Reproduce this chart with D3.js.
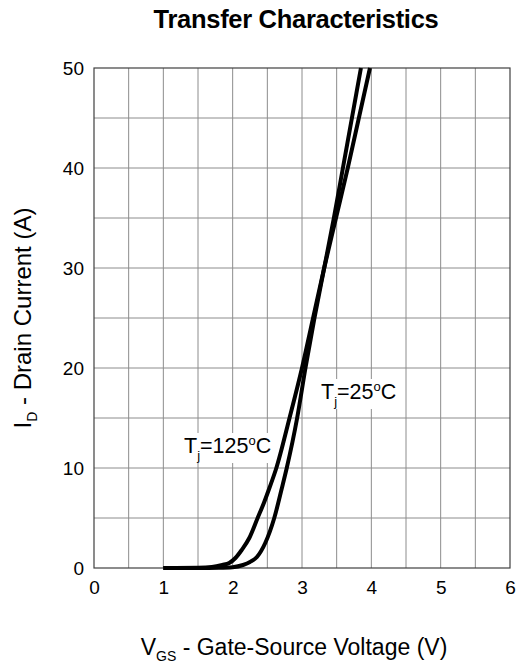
<!DOCTYPE html>
<html>
<head>
<meta charset="utf-8">
<script src="https://cdn.jsdelivr.net/npm/d3@7"></script>
<style>
  html, body { margin: 0; padding: 0; background: #fff; }
  text { font-family: "Liberation Sans", Arial, sans-serif; fill: #000; }
</style>
</head>
<body>
<svg id="chart" width="516" height="666"></svg>
<script>
// ---- data ----
const titleText = "Transfer Characteristics";
const xTicks = [0, 1, 2, 3, 4, 5, 6];
const yTicks = [0, 10, 20, 30, 40, 50];
const xGrid = [0.5, 1, 1.5, 2, 2.5, 3, 3.5, 4, 4.5, 5, 5.5];
const yGrid = [5, 10, 15, 20, 25, 30, 35, 40, 45];

// Tj = 25 °C
const vgs25 = [1.0, 1.5, 1.8, 2.0, 2.15, 2.25, 2.35, 2.47, 2.6, 2.71, 2.78, 2.93, 3.05, 3.18, 3.32, 3.46, 3.59, 3.72, 3.85];
const id25  = [0, 0, 0.02, 0.08, 0.3, 0.6, 1.1, 2.5, 5, 8, 10, 15, 20, 25, 30, 35, 40, 45, 50];

// Tj = 125 °C
const vgs125 = [1.0, 1.5, 1.7, 1.85, 1.95, 2.04, 2.13, 2.24, 2.36, 2.45, 2.53, 2.63, 2.82, 3.0, 3.16, 3.32, 3.49, 3.66, 3.82, 3.98];
const id125  = [0, 0.03, 0.1, 0.3, 0.5, 1.0, 1.8, 3.0, 5, 6.5, 8, 10, 15, 20, 25, 30, 35, 40, 45, 50];

// ---- layout ----
const svg = d3.select("#chart");
const L = 94, R = 510, T = 68, B = 568;
const x = d3.scaleLinear().domain([0, 6]).range([L, R]);
const y = d3.scaleLinear().domain([0, 50]).range([B, T]);

// grid
const g = svg.append("g");
g.selectAll("line.vg").data(xGrid).enter().append("line")
  .attr("x1", d => x(d)).attr("x2", d => x(d)).attr("y1", T).attr("y2", B)
  .attr("stroke", "#8c8c8c").attr("stroke-width", 1);
g.selectAll("line.hg").data(yGrid).enter().append("line")
  .attr("y1", d => y(d)).attr("y2", d => y(d)).attr("x1", L).attr("x2", R)
  .attr("stroke", "#8c8c8c").attr("stroke-width", 1);

// frame
svg.append("rect").attr("x", L).attr("y", T).attr("width", R - L).attr("height", B - T)
  .attr("fill", "none").attr("stroke", "#404040").attr("stroke-width", 1.2);

// axes tick labels
const xAxis = d3.axisBottom(x).tickValues(xTicks).tickSize(0).tickPadding(13).tickFormat(d3.format("d"));
const xa = svg.append("g").attr("transform", `translate(0,${B})`).call(xAxis);
xa.select(".domain").remove();
xa.selectAll("text").attr("font-size", 19).attr("font-family", "Liberation Sans, Arial, sans-serif").attr("fill", "#000");

const yAxis = d3.axisLeft(y).tickValues(yTicks).tickSize(0).tickPadding(10).tickFormat(d3.format("d"));
const ya = svg.append("g").attr("transform", `translate(${L},0)`).call(yAxis);
ya.select(".domain").remove();
ya.selectAll("text").attr("font-size", 19).attr("font-family", "Liberation Sans, Arial, sans-serif").attr("fill", "#000");

// labels with white background
function tempLabel(px, py, temp) {
  const grp = svg.append("g");
  const bg = grp.append("rect").attr("fill", "#fff");
  const t = grp.append("text").attr("x", px).attr("y", py).attr("font-size", 21.5);
  t.append("tspan").text("T");
  t.append("tspan").attr("font-size", 13).attr("dy", 7).text("j");
  t.append("tspan").attr("dy", -7).text("=" + temp);
  t.append("tspan").attr("font-size", 13).attr("dy", -8).text("o");
  t.append("tspan").attr("dy", 8).text("C");
  const bb = t.node().getBBox();
  bg.attr("x", bb.x - 2).attr("y", bb.y).attr("width", bb.width + 4).attr("height", bb.height);
  return grp;
}

// curves
const line = d3.line().x(d => x(d[0])).y(d => y(d[1])).curve(d3.curveMonotoneX);
const d25 = vgs25.map((v, i) => [v, id25[i]]);
const d125 = vgs125.map((v, i) => [v, id125[i]]);

tempLabel(184, 453, "125");
tempLabel(321, 399, "25");

svg.append("path").datum(d125).attr("d", line).attr("fill", "none")
  .attr("stroke", "#000").attr("stroke-width", 4).attr("stroke-linejoin", "round");
svg.append("path").datum(d25).attr("d", line).attr("fill", "none")
  .attr("stroke", "#000").attr("stroke-width", 4).attr("stroke-linejoin", "round");

// title
svg.append("text").attr("x", 296).attr("y", 28).attr("text-anchor", "middle")
  .attr("font-size", 25.5).attr("font-weight", "bold").attr("letter-spacing", -0.3).text(titleText);

// x axis title
const xt = svg.append("text").attr("x", 294).attr("y", 655).attr("text-anchor", "middle").attr("font-size", 23);
xt.append("tspan").text("V");
xt.append("tspan").attr("font-size", 14).attr("dy", 6).text("GS");
xt.append("tspan").attr("dy", -6).text(" - Gate-Source Voltage (V)");

// y axis title
const yt = svg.append("text").attr("transform", "translate(31,318) rotate(-90)")
  .attr("text-anchor", "middle").attr("font-size", 24);
yt.append("tspan").text("I");
yt.append("tspan").attr("font-size", 14).attr("dy", 6).text("D");
yt.append("tspan").attr("dy", -6).text(" - Drain Current (A)");
</script>
</body>
</html>
